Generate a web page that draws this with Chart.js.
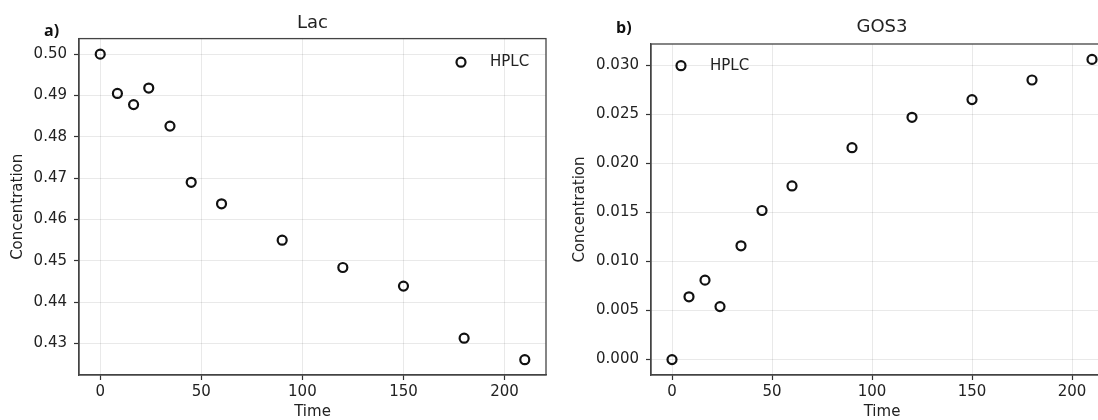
<!DOCTYPE html>
<html><head><meta charset="utf-8">
<script src="https://cdn.jsdelivr.net/npm/chart.js@4/dist/chart.umd.min.js"></script>
<style>
html,body{margin:0;padding:0;background:#fff;overflow:hidden;width:1098px;height:420px;position:relative;}
#ca{position:absolute;left:0;top:0;}
#cb{position:absolute;left:571px;top:0;}
.lbl{position:absolute;font:bold 16px "Open Sans",sans-serif;color:#111;line-height:18px;}
</style></head><body>
<canvas id="ca" width="560" height="420"></canvas>
<canvas id="cb" width="556" height="420"></canvas>
<div class="lbl" style="left:44px;top:21px">a)</div>
<div class="lbl" style="left:616px;top:18px">b)</div>
<script>
// ---- data ----
const timeValues = [0, 8.5, 16.5, 24, 34.5, 45, 60, 90, 120, 150, 180, 210];
const lacValues  = [0.5000, 0.4905, 0.4878, 0.4918, 0.4826, 0.4690, 0.4638, 0.4550, 0.4484, 0.4439, 0.4313, 0.4261];
const gos3Values = [0.0000, 0.0064, 0.0081, 0.0054, 0.0116, 0.0152, 0.0177, 0.0216, 0.0247, 0.0265, 0.0285, 0.0306];
const timeTicks  = [0, 50, 100, 150, 200];
const lacTicks   = [0.43, 0.44, 0.45, 0.46, 0.47, 0.48, 0.49, 0.50];
const gos3Ticks  = [0.000, 0.005, 0.010, 0.015, 0.020, 0.025, 0.030];
const seriesLabel = 'HPLC';
const xTitle = 'Time';
const yTitle = 'Concentration';

const FONT = '"DejaVu Sans", sans-serif';
Chart.defaults.font.family = FONT;
Chart.defaults.color = '#222';

const frameLegend = {
  id: 'frameLegend',
  afterDatasetsDraw(chart, args, opts) {
    const {ctx, chartArea: a} = chart;
    ctx.save();
    ctx.strokeStyle = '#444';
    ctx.lineWidth = 1.3;
    ctx.strokeRect(a.left, a.top, a.right - a.left, a.bottom - a.top);
    const ds = chart.data.datasets[0];
    const mx = opts.corner === 'tr' ? a.right - opts.dx : a.left + opts.dx;
    const my = a.top + opts.dy;
    ctx.beginPath();
    ctx.arc(mx, my, ds.pointRadius, 0, Math.PI * 2);
    ctx.lineWidth = ds.pointBorderWidth;
    ctx.strokeStyle = ds.pointBorderColor;
    ctx.stroke();
    ctx.fillStyle = '#222';
    ctx.font = '15px ' + FONT;
    ctx.textBaseline = 'middle';
    ctx.textAlign = 'left';
    ctx.fillText(ds.label, mx + opts.gap, my);
    ctx.restore();
  }
};

function build(id, yVals, yTickVals, yMin, yMax, decimals, title, titlePad, yWidth, yTitlePad, legendOpts) {
  return new Chart(document.getElementById(id), {
    type: 'scatter',
    data: {
      datasets: [{
        label: seriesLabel,
        data: timeValues.map((t, i) => ({x: t, y: yVals[i]})),
        pointRadius: 4.5,
        pointBorderWidth: 2.2,
        pointBorderColor: '#111',
        pointBackgroundColor: 'rgba(0,0,0,0)',
        showLine: false
      }]
    },
    options: {
      responsive: false,
      animation: false,
      layout: {padding: {left: 0, right: 14, top: 0, bottom: 0}},
      plugins: {
        legend: {display: false},
        tooltip: {enabled: false},
        title: {display: true, fullSize: false, text: title, font: {size: 18, weight: 'normal'}, color: '#222', padding: titlePad},
        frameLegend: legendOpts
      },
      scales: {
        x: {
          type: 'linear', min: -10.5, max: 220.5,
          afterBuildTicks: s => { s.ticks = timeTicks.map(v => ({value: v})); },
          afterFit: s => { s.height = 45; },
          ticks: {font: {size: 15}, color: '#222', padding: 3, callback: v => String(v)},
          grid: {color: 'rgba(0,0,0,0.085)', tickColor: '#333', tickLength: 5, tickWidth: 1.2},
          border: {color: '#444', width: 1.3},
          title: {display: true, text: xTitle, font: {size: 15}, color: '#222', padding: {top: 0, bottom: -1}}
        },
        y: {
          type: 'linear', min: yMin, max: yMax,
          afterBuildTicks: s => { s.ticks = yTickVals.map(v => ({value: v})); },
          afterFit: s => { s.width = yWidth; },
          ticks: {font: {size: 15}, color: '#222', padding: 7, callback: v => Number(v).toFixed(decimals)},
          grid: {color: 'rgba(0,0,0,0.085)', tickColor: '#333', tickLength: 5, tickWidth: 1.2},
          border: {color: '#444', width: 1.3},
          title: {display: true, text: yTitle, font: {size: 15}, color: '#222', padding: {top: yTitlePad, bottom: 0}}
        }
      }
    },
    plugins: [frameLegend]
  });
}

build('ca', lacValues, lacTicks, 0.42240, 0.50376, 2, 'Lac', {top: 13, bottom: 4}, 79, 9, {corner: 'tr', dx: 85, dy: 23.6, gap: 29});
build('cb', gos3Values, gos3Ticks, -0.00157, 0.03217, 3, 'GOS3', {top: 17, bottom: 5.4}, 80, 0, {corner: 'tl', dx: 30, dy: 21.7, gap: 29});
</script>
</body></html>
